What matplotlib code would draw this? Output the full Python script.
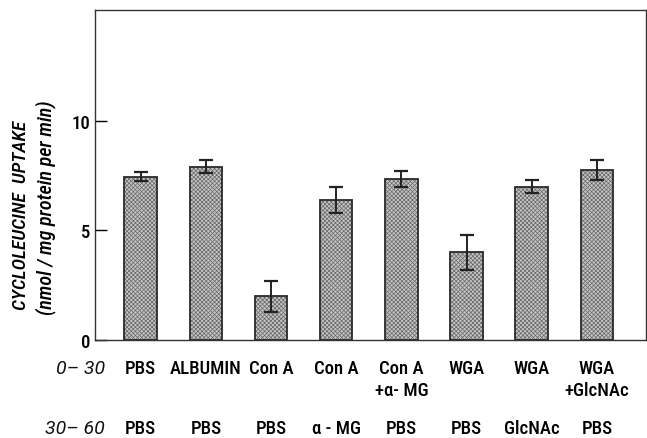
import matplotlib
matplotlib.use("Agg")
import matplotlib.pyplot as plt
import numpy as np

plt.rcParams['font.family'] = ['Roboto Condensed', 'DejaVu Sans']
plt.rcParams['hatch.linewidth'] = 0.5

row1_line1 = ["PBS", "ALBUMIN", "Con A", "Con A", "Con A", "WGA", "WGA", "WGA"]
row1_line2 = ["", "", "", "", "+α- MG", "", "", "+GlcNAc"]
row2 = ["PBS", "PBS", "PBS", "α - MG", "PBS", "PBS", "GlcNAc", "PBS"]
values = [7.45, 7.9, 2.0, 6.4, 7.35, 4.0, 7.0, 7.75]
errors = [0.2, 0.3, 0.7, 0.6, 0.35, 0.8, 0.3, 0.45]
yticks = [0, 5, 10]

fig = plt.figure(figsize=(6.47, 4.39), dpi=100)
ax = fig.add_axes([0.147, 0.223, 0.851, 0.752])
x = np.arange(len(values))
ax.bar(x, values, width=0.5, color='#c6c6c6', edgecolor='#666666', linewidth=0,
       hatch='xxxxxxxx')
ax.bar(x, values, width=0.5, color='none', edgecolor='#2a2a2a', linewidth=1.3)
ax.errorbar(x, values, yerr=errors, fmt='none', ecolor='#222222', elinewidth=1.4,
            capsize=4.7, capthick=1.6)
ax.set_xlim(-0.70, 7.75)
ax.set_ylim(0, 15.05)
ax.set_yticks(yticks)
ax.set_yticklabels([str(t) for t in yticks], fontsize=13.5, fontweight='medium')
ax.tick_params(axis='y', direction='in', length=8.6, width=1, pad=3.6)
ax.set_xticks([])
for s in ax.spines.values():
    s.set_linewidth(1.0)
    s.set_color('#333333')

tr = ax.get_xaxis_transform()
fs = 13.5
for xi, a, b, c in zip(x, row1_line1, row1_line2, row2):
    ax.text(xi, -0.058, a, transform=tr, ha='center', va='top', fontsize=fs,
            fontweight='medium')
    if b:
        ax.text(xi, -0.123, b, transform=tr, ha='center', va='top', fontsize=fs,
                fontweight='medium')
    ax.text(xi, -0.240, c, transform=tr, ha='center', va='top', fontsize=fs,
            fontweight='medium')
ax.text(-0.55, -0.058, "0– 30", transform=tr, ha='right', va='top', fontsize=14,
        style='italic', family=['Roboto', 'DejaVu Sans'], color='#111111')
ax.text(-0.55, -0.240, "30– 60", transform=tr, ha='right', va='top', fontsize=14,
        style='italic', family=['Roboto', 'DejaVu Sans'], color='#111111')

fig.text(0.033, 0.510, "CYCLOLEUCINE  UPTAKE", rotation=90, ha='center', va='center',
         fontsize=14, style='italic', fontweight='medium')
fig.text(0.071, 0.528, "(nmol / mg protein per min)", rotation=90, ha='center',
         va='center', fontsize=14.5, style='italic', fontweight='medium')

fig.savefig("out.png", dpi=100)
